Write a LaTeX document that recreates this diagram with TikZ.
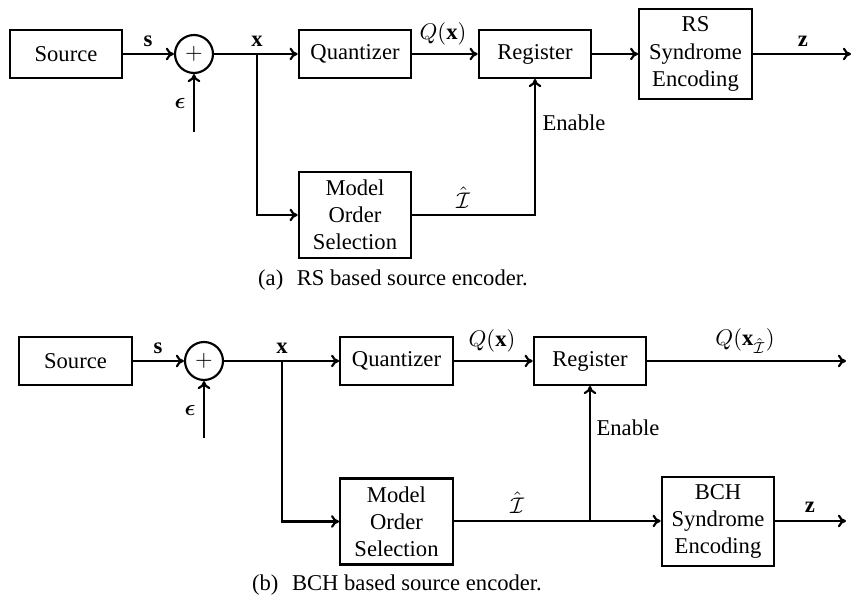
\documentclass[tikz,border=0pt]{standalone}
\usepackage{amsmath}
\usepackage{bm}
\usepackage{fontspec}
\setmainfont{Liberation Serif}
\usetikzlibrary{arrows.meta}
\begin{document}
\begin{tikzpicture}[x=0.4425pt,y=-0.4425pt,
  line width=0.95pt,
  blk/.style={draw,align=center,minimum width=49.8pt,minimum height=21.2pt,inner sep=2pt,font=\fontsize{10}{12}\selectfont},
  tall/.style={blk,minimum height=38pt},
  sumc/.style={draw,circle,minimum size=16.8pt,inner sep=0pt},
  lbl/.style={inner sep=0pt,font=\fontsize{10}{12}\selectfont},
  conn/.style={},
  arr/.style={-{To[length=3.6pt,width=5.6pt]}}]
\useasboundingbox (0,0) rectangle (852,601);
% ---------- (a) ----------
\node[blk] (srcA) at (66,54) {Source};
\node[sumc] (addA) at (194,54) {$+$};
\node[blk] (quantA) at (355,54) {Quantizer};
\node[tall] (mosA) at (355,215) {Model\\Order\\Selection};
\node[blk] (regA) at (535,54) {Register};
\node[tall,minimum height=39.8pt] (rsA) at (695.5,54) {RS\\Syndrome\\Encoding};
\coordinate (brA) at (257,54);
\coordinate (epsA) at (194,132);
\coordinate (zA) at (851,54);
\draw[arr] (srcA) -- (addA);
\draw[arr] (epsA) -- (addA);
\draw[conn] (addA) -- (brA);
\draw[arr] (brA) -- (quantA);
\draw[arr] (brA) |- (mosA.west);
\draw[arr] (quantA) -- (regA);
\draw[arr] (mosA.east) -| (regA.south);
\draw[arr] (regA) -- (rsA);
\draw[arr] (rsA) -- (zA);
\node[lbl] (sA) at (148,41) {$\mathbf{s}$};
\node[lbl] (xA) at (257,41) {$\mathbf{x}$};
\node[lbl] (eA) at (180,103) {$\bm{\epsilon}$};
\node[lbl] (qA) at (443,34) {$Q(\mathbf{x})$};
\node[lbl] (gA) at (615,40) {$\mathbf{\Gamma}$};
\node[lbl] (zlA) at (803,41) {$\mathbf{z}$};
\node[lbl] (enA) at (574,123) {Enable};
\node[lbl] (iA) at (463,198) {$\hat{\mathcal{I}}$};
\node[lbl] (capA) at (393,280) {(a)\hspace{0.6em}RS based source encoder.};
% ---------- (b) ----------
\node[blk] (srcB) at (75.5,361) {Source};
\node[sumc] (addB) at (204,361) {$+$};
\node[blk] (quantB) at (396.5,361) {Quantizer};
\node[tall] (mosB) at (396.5,521.5) {Model\\Order\\Selection};
\node[blk] (regB) at (590,361) {Register};
\node[tall,minimum height=39.5pt] (bchB) at (718,521.5) {BCH\\Syndrome\\Encoding};
\coordinate (brB) at (282,361);
\coordinate (epsB) at (204,438);
\coordinate (jB) at (590,521);
\coordinate (outB) at (846,361);
\coordinate (zB) at (846,521);
\draw[arr] (srcB) -- (addB);
\draw[arr] (epsB) -- (addB);
\draw[conn] (addB) -- (brB);
\draw[arr] (brB) -- (quantB);
\draw[arr] (brB) |- (mosB.west);
\draw[arr] (quantB) -- (regB);
\draw[conn] (mosB.east |- jB) -- (jB);
\draw[arr] (jB) -- (regB.south);
\draw[arr] (jB) -- (bchB.west |- jB);
\draw[arr] (regB) -- (outB);
\draw[arr] (bchB.east |- zB) -- (zB);
\node[lbl] (sB) at (158,348) {$\mathbf{s}$};
\node[lbl] (xB) at (282,348) {$\mathbf{x}$};
\node[lbl] (eB) at (190,410) {$\bm{\epsilon}$};
\node[lbl] (qB) at (492,341) {$Q(\mathbf{x})$};
\node[lbl] (qiB) at (745,341) {$Q(\mathbf{x}_{\hat{\mathcal{I}}})$};
\node[lbl] (zlB) at (810,507) {$\mathbf{z}$};
\node[lbl] (enB) at (628,428) {Enable};
\node[lbl] (iB) at (517,503) {$\hat{\mathcal{I}}$};
\node[lbl] (capB) at (397,585) {(b)\hspace{0.6em}BCH based source encoder.};
\end{tikzpicture}
\end{document}
